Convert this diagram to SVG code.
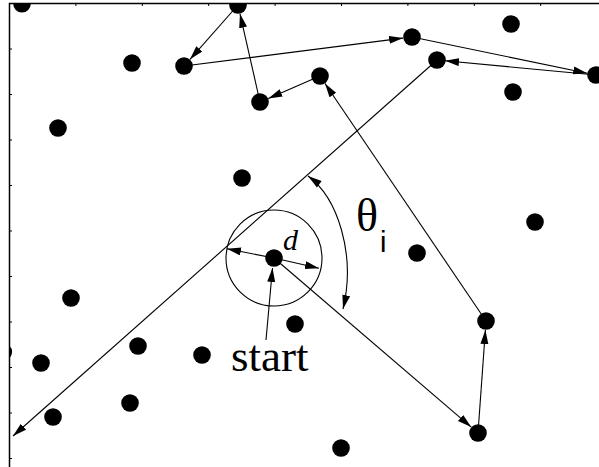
<svg xmlns="http://www.w3.org/2000/svg" width="599" height="467" viewBox="0 0 599 467">
<style>
.dot{fill:#000}
.ln{stroke:#000;stroke-width:1.1;fill:none}
.ax{stroke:#000;stroke-width:1.5;fill:none}
.tk{stroke:#000;stroke-width:1;fill:none}
.arr{marker-end:url(#ah)}
</style>
<defs>
<marker id="ah" markerUnits="userSpaceOnUse" markerWidth="16" markerHeight="10" refX="14" refY="4" orient="auto"><path d="M0,0 L14,4 L0,8 z" fill="#000"/></marker>
<marker id="ahs" markerUnits="userSpaceOnUse" markerWidth="16" markerHeight="10" refX="0" refY="4" orient="auto"><path d="M14,0 L0,4 L14,8 z" fill="#000"/></marker>
<clipPath id="plot"><rect x="9.5" y="3.5" width="600" height="470"/></clipPath>
</defs>
<rect width="599" height="467" fill="#fff"/>
<g id="axes">
<path class="ax" d="M9.5,467 V3.5 H599"/>
<path class="tk" d="M75.9,3.5v2.5M142.3,3.5v2.5M208.7,3.5v2.5M275.1,3.5v2.5M341.5,3.5v2.5M407.9,3.5v2.5M474.3,3.5v2.5M540.7,3.5v2.5"/>
<path class="tk" d="M9.5,49h2.5M9.5,94.5h2.5M9.5,140h2.5M9.5,185.5h2.5M9.5,231h2.5M9.5,276.5h2.5M9.5,322h2.5M9.5,367.5h2.5M9.5,413h2.5M9.5,458.5h2.5"/>
</g>
<g id="connectors">
<line class="ln arr" x1="274" y1="258" x2="471.2" y2="427.1"/>
<line class="ln arr" x1="478" y1="433" x2="485.4" y2="330"/>
<line class="ln arr" x1="486" y1="321" x2="325" y2="83.5"/>
<line class="ln arr" x1="320" y1="76" x2="268.3" y2="98.4"/>
<line class="ln arr" x1="260" y1="102" x2="240" y2="13.8"/>
<line class="ln arr" x1="238" y1="5" x2="190" y2="59.3"/>
<line class="ln arr" x1="184" y1="66" x2="403.1" y2="38.1"/>
<line class="ln arr" x1="412" y1="37" x2="587.2" y2="73.2"/>
<line class="ln arr" x1="596" y1="75" x2="445" y2="60.8"/>
<line class="ln arr" x1="437" y1="60" x2="13" y2="436"/>
<line class="ln arr" x1="266" y1="340" x2="272.5" y2="268"/>
<line class="ln arr" x1="274" y1="258" x2="227" y2="248.8"/>
<line class="ln arr" x1="274" y1="258" x2="319" y2="268.3"/>
<path class="ln" d="M308,176 C338,198 356,255 343,309" marker-start="url(#ahs)" marker-end="url(#ah)"/>
</g>
<g id="range">
<circle class="ln" cx="274" cy="258" r="48"/>
</g>
<g clip-path="url(#plot)">
<g id="n1"><circle class="dot" cx="22" cy="3.7" r="8.8"/></g>
<g id="n2"><circle class="dot" cx="238" cy="5" r="8.8"/></g>
<g id="n3"><circle class="dot" cx="132" cy="63" r="8.8"/></g>
<g id="n4"><circle class="dot" cx="184" cy="66" r="8.8"/></g>
<g id="n5"><circle class="dot" cx="260" cy="102" r="8.8"/></g>
<g id="n6"><circle class="dot" cx="58" cy="128" r="8.8"/></g>
<g id="n7"><circle class="dot" cx="412" cy="37" r="8.8"/></g>
<g id="n8"><circle class="dot" cx="511" cy="24" r="8.8"/></g>
<g id="n9"><circle class="dot" cx="320" cy="76" r="8.8"/></g>
<g id="n10"><circle class="dot" cx="437" cy="60" r="8.8"/></g>
<g id="n11"><circle class="dot" cx="513" cy="92" r="8.8"/></g>
<g id="n12"><circle class="dot" cx="596" cy="75" r="8.8"/></g>
<g id="n13"><circle class="dot" cx="242" cy="178" r="8.8"/></g>
<g id="start-node"><circle class="dot" cx="274" cy="258" r="8.8"/></g>
<g id="n15"><circle class="dot" cx="417" cy="253" r="8.8"/></g>
<g id="n16"><circle class="dot" cx="535" cy="222" r="8.8"/></g>
<g id="n17"><circle class="dot" cx="71" cy="298" r="8.8"/></g>
<g id="n18"><circle class="dot" cx="295" cy="324" r="8.8"/></g>
<g id="n19"><circle class="dot" cx="486" cy="321" r="8.8"/></g>
<g id="n20"><circle class="dot" cx="138" cy="346" r="8.8"/></g>
<g id="n21"><circle class="dot" cx="202" cy="355" r="8.8"/></g>
<g id="n22"><circle class="dot" cx="41" cy="363" r="8.8"/></g>
<g id="n23"><circle class="dot" cx="3.3" cy="352" r="8.8"/></g>
<g id="n24"><circle class="dot" cx="130" cy="403" r="8.8"/></g>
<g id="n25"><circle class="dot" cx="53" cy="417" r="8.8"/></g>
<g id="n26"><circle class="dot" cx="341" cy="448" r="8.8"/></g>
<g id="n27"><circle class="dot" cx="478" cy="433" r="8.8"/></g>
</g>
<g id="labels" fill="#000">
<text x="283" y="250" font-family="Liberation Serif, serif" font-style="italic" font-size="30">d</text>
<text x="231" y="371" font-family="Liberation Serif, serif" font-size="45">start</text>
<text x="356" y="231" font-family="Liberation Serif, serif" font-size="46">θ</text>
<text x="380" y="252" font-family="Liberation Sans, sans-serif" font-size="29">i</text>
</g>
</svg>
